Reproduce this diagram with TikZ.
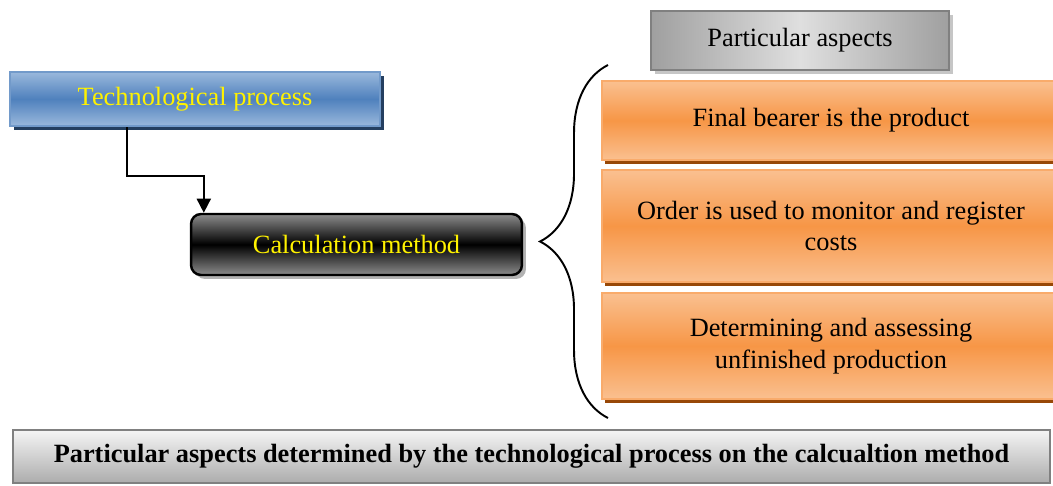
\documentclass[tikz,border=0pt]{standalone}
\usepackage{fontspec}
\setmainfont{Liberation Serif}
\usetikzlibrary{decorations.pathreplacing,shadows,arrows.meta}

\definecolor{techblue}{HTML}{4F81BD}
\definecolor{techlight}{HTML}{9AB8DC}
\definecolor{techdark}{HTML}{243F60}
\definecolor{asporange}{HTML}{F79646}
\definecolor{asplight}{HTML}{FAC090}
\definecolor{aspdark}{HTML}{984807}

\begin{document}
\begin{tikzpicture}[x=0.02cm, y=-0.02cm,
  every node/.style={font=\fontsize{15}{18}\selectfont},
  techbox/.style={draw=techblue!80!white, line width=1.2pt, top color=techlight, bottom color=techlight, middle color=techblue,
    drop shadow={shadow xshift=0.08cm, shadow yshift=-0.08cm, opacity=1, fill=techdark}, text=yellow},
  calcbox/.style={draw=black, line width=1.4pt, rounded corners=0.2cm, top color=gray!90, bottom color=gray!90, middle color=black,
    drop shadow={shadow xshift=0.08cm, shadow yshift=-0.08cm, opacity=1, fill=gray!60}, text=yellow},
  aspbox/.style={draw=asporange!80!white, line width=1pt, top color=asplight, bottom color=asplight, middle color=asporange,
    drop shadow={shadow xshift=0.06cm, shadow yshift=-0.08cm, opacity=1, fill=aspdark}, align=center,
    minimum width=9.16cm},
  headbox/.style={draw=gray, line width=1.4pt, left color=gray!75, right color=gray!75, middle color=gray!25,
    drop shadow={shadow xshift=0.08cm, shadow yshift=-0.08cm, opacity=1, fill=gray!45}}
  ]
  \useasboundingbox (0,0) rectangle (1053,486);
  \clip (0,0) rectangle (1053,486);

  \node[techbox, minimum width=7.4cm, minimum height=1.08cm] (tech) at (195,99) {Technological process};
  \node[calcbox, minimum width=6.62cm, minimum height=1.22cm] (calc) at (356.5,244.5) {Calculation method};

  \node[headbox, minimum width=5.96cm, minimum height=1.18cm] (head) at (800,40.5) {Particular aspects};

  \node[aspbox, minimum height=1.58cm] (bearer) at (831,120.5) {Final bearer is the product};
  \node[aspbox, minimum height=2.24cm] (order) at (831,226) {Order is used to monitor and register\\costs};
  \node[aspbox, minimum height=2.12cm] (unfin) at (831,346) {Determining and assessing\\unfinished production};

  \node[draw=gray, line width=1.4pt, top color=gray!8, bottom color=gray!65, minimum width=20.74cm, minimum height=1.06cm,
    font=\fontsize{15}{18}\selectfont\bfseries] (title) at (531.5,456.5)
    {Particular aspects determined by the technological process on the calcualtion method};

  \path[draw, line width=1pt, -{Triangle[length=8pt, width=8pt]}]
  ([xshift=2.36cm] tech.south west) -- ++(0,49) -| ([xshift=0.28cm] calc.north west);

  \coordinate (bracetop) at (608,65);
  \coordinate (bracebot) at (608,418);
  \draw[decorate, decoration={brace, amplitude=1.36cm}, line width=1.1pt]
  (bracebot) -- (bracetop);

\end{tikzpicture}
\end{document}
